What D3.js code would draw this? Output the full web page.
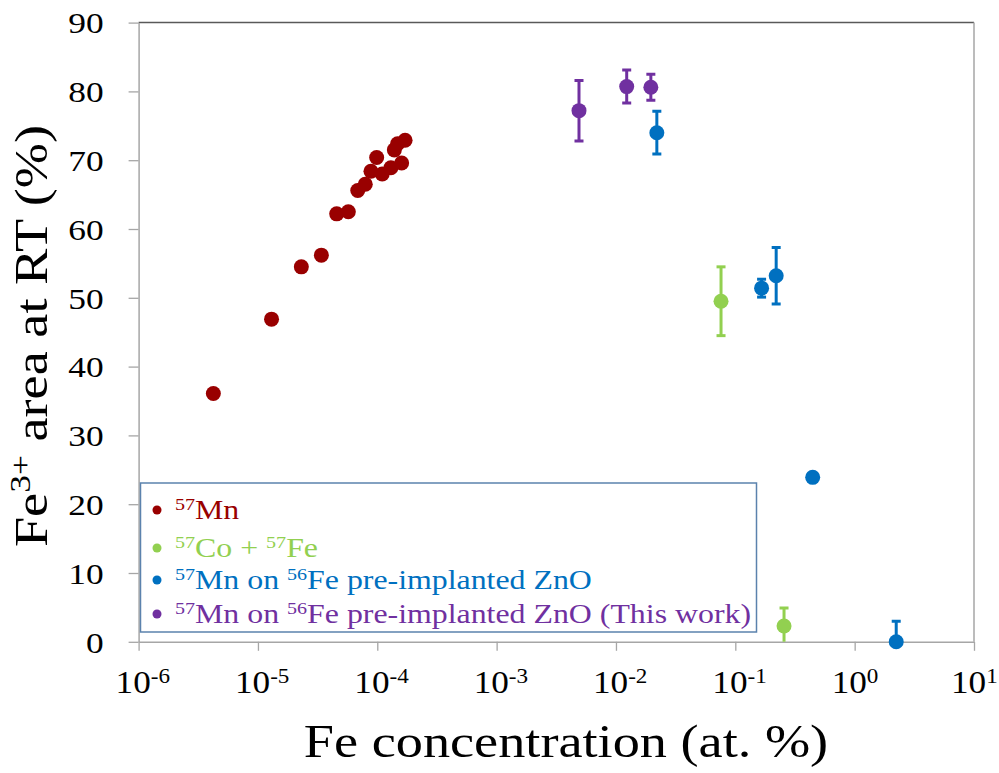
<!DOCTYPE html>
<html><head><meta charset="utf-8">
<script src="https://cdn.jsdelivr.net/npm/d3@7"></script>
<style>
body{margin:0;background:#fff}
svg{display:block}
text{font-family:"Liberation Serif","Times New Roman",serif}
</style>
</head><body>
<svg id="chart" width="999" height="773"></svg>
<script>
// ---- data ----
const mnX = [4.23e-6, 1.30e-5, 2.31e-5, 3.40e-5, 4.57e-5, 5.72e-5, 6.86e-5, 7.93e-5, 8.85e-5, 9.88e-5, 1.10e-4, 1.30e-4, 1.39e-4, 1.48e-4, 1.71e-4, 1.60e-4];
const mnY = [36.1, 46.9, 54.5, 56.2, 62.2, 62.5, 65.6, 66.5, 68.4, 70.4, 68.0, 68.9, 71.5, 72.4, 72.9, 69.6];

const coX = [0.0759, 0.256];
const coY = [49.5, 2.3];
const coErr = [5.0, 2.6];

const feX = [0.0220, 0.166, 0.220, 0.445, 2.23];
const feY = [74.0, 51.4, 53.2, 23.9, 0.0];
const feErr = [3.1, 1.3, 4.1, 0.5, 3.0];

const twX = [4.90e-3, 1.23e-2, 1.96e-2];
const twY = [77.2, 80.7, 80.6];
const twErr = [4.4, 2.4, 1.9];

const yTicks = [0, 10, 20, 30, 40, 50, 60, 70, 80, 90];
const xTicks = [1e-6, 1e-5, 1e-4, 1e-3, 1e-2, 1e-1, 1e0, 1e1];
const xTickExp = ["-6", "-5", "-4", "-3", "-2", "-1", "0", "1"];

const seriesNames = [
  [["57", true], ["Mn", false]],
  [["57", true], ["Co + ", false], ["57", true], ["Fe", false]],
  [["57", true], ["Mn on ", false], ["56", true], ["Fe pre-implanted ZnO", false]],
  [["57", true], ["Mn on ", false], ["56", true], ["Fe pre-implanted ZnO (This work)", false]]
];
const seriesColors = ["#990000", "#92d050", "#0070c0", "#7030a0"];

const xTitle = "Fe concentration (at. %)";
const yTitleParts = [["Fe", false], ["3+", true], [" area at RT (%)", false]];

// ---- layout ----
const L = 138.6, R = 974, T = 22.6, B = 641.8;
const SX = 1.18; // horizontal text stretch

const svg = d3.select("#chart");
const x = d3.scaleLog().domain([1e-6, 10]).range([L, R]);
const y = d3.scaleLinear().domain([0, 90]).range([B, T]);

// frame
svg.append("line").attr("x1", L).attr("x2", R).attr("y1", T).attr("y2", T)
  .attr("stroke", "#595959").attr("stroke-width", 1.5);
svg.append("line").attr("x1", R).attr("x2", R).attr("y1", T).attr("y2", B)
  .attr("stroke", "#a6a6a6").attr("stroke-width", 1.5);

// y axis
const yAxis = svg.append("g").attr("transform", `translate(${L},0)`)
  .call(d3.axisLeft(y).tickValues(yTicks).tickSize(10).tickSizeOuter(0).tickPadding(25).tickFormat(d3.format("d")));
yAxis.select(".domain").attr("stroke", "#a6a6a6").attr("stroke-width", 1.5);
yAxis.selectAll(".tick line").attr("stroke", "#a6a6a6").attr("stroke-width", 1.3);
yAxis.selectAll(".tick text")
  .attr("x", null).attr("dy", "0.34em")
  .attr("transform", `translate(-35,0) scale(${SX},1)`)
  .attr("fill", "#000").style("font-size", "30px");

// x axis
const xAxis = svg.append("g").attr("transform", `translate(0,${B})`)
  .call(d3.axisBottom(x).tickValues(xTicks).tickSize(9).tickSizeOuter(0).tickFormat(""));
xAxis.select(".domain").attr("stroke", "#a6a6a6").attr("stroke-width", 1.5);
xAxis.selectAll(".tick line").attr("stroke", "#a6a6a6").attr("stroke-width", 1.3);
xAxis.selectAll(".tick").each(function(d, i) {
  const t = d3.select(this).append("text")
    .attr("transform", `translate(-23.5,51) scale(1.1,1)`)
    .attr("text-anchor", "start").attr("fill", "#000").style("font-size", "32px");
  t.append("tspan").text("10");
  t.append("tspan").attr("dy", -10).style("font-size", "21px").text(xTickExp[i]);
});

// plot clip for error bars
svg.append("clipPath").attr("id", "plotclip").append("rect")
  .attr("x", L).attr("y", T).attr("width", R - L).attr("height", B - T);

const series = [
  {xs: mnX, ys: mnY, err: null},
  {xs: coX, ys: coY, err: coErr},
  {xs: feX, ys: feY, err: feErr},
  {xs: twX, ys: twY, err: twErr}
];

series.forEach((s, si) => {
  const col = seriesColors[si];
  const g = svg.append("g");
  const pts = s.xs.map((v, i) => ({x: v, y: s.ys[i], e: s.err ? s.err[i] : 0}));
  if (s.err) {
    const eg = g.append("g").attr("clip-path", "url(#plotclip)");
    pts.forEach(p => {
      eg.append("line").attr("x1", x(p.x)).attr("x2", x(p.x))
        .attr("y1", y(p.y - p.e)).attr("y2", y(p.y + p.e))
        .attr("stroke", col).attr("stroke-width", 3);
      [p.y - p.e, p.y + p.e].forEach(v => {
        eg.append("line").attr("x1", x(p.x) - 4.5).attr("x2", x(p.x) + 4.5)
          .attr("y1", y(v)).attr("y2", y(v))
          .attr("stroke", col).attr("stroke-width", 3);
      });
    });
  }
  g.selectAll("circle").data(pts).join("circle")
    .attr("cx", d => x(d.x)).attr("cy", d => y(d.y)).attr("r", 7.5)
    .attr("fill", col);
});

// legend
const lg = svg.append("g");
lg.append("rect").attr("x", 140.5).attr("y", 483).attr("width", 616).attr("height", 149)
  .attr("fill", "#fff").attr("stroke", "#5b82ad").attr("stroke-width", 1.5);
const rowBase = [519, 557, 589, 623];
seriesNames.forEach((parts, i) => {
  lg.append("circle").attr("cx", 157).attr("cy", rowBase[i] - 9).attr("r", 4.5).attr("fill", seriesColors[i]);
  const t = lg.append("text").attr("transform", `translate(175,${rowBase[i]}) scale(${SX},1)`)
    .attr("fill", seriesColors[i]).style("font-size", "27px");
  let up = false;
  parts.forEach(([txt, sup]) => {
    const ts = t.append("tspan").text(txt);
    if (sup) { ts.style("font-size", "17px").attr("dy", -9); up = true; }
    else if (up) { ts.attr("dy", 9); up = false; }
  });
});

// axis titles
svg.append("text").attr("transform", `translate(566,757) scale(${SX},1)`)
  .attr("text-anchor", "middle").style("font-size", "46px").attr("fill", "#000").text(xTitle);

const yt = svg.append("text").attr("transform", `translate(47,336) rotate(-90) scale(${SX},1)`)
  .attr("text-anchor", "middle").style("font-size", "46px").attr("fill", "#000");
let upY = false;
yTitleParts.forEach(([txt, sup]) => {
  const ts = yt.append("tspan").text(txt);
  if (sup) { ts.style("font-size", "30px").attr("dy", -17); upY = true; }
  else if (upY) { ts.attr("dy", 17); upY = false; }
});
</script>
</body></html>
